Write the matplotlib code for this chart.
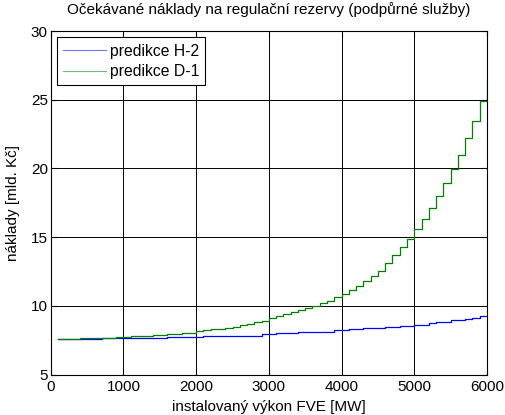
import numpy as np
import matplotlib.pyplot as plt

plt.rcParams['font.family'] = ['Liberation Sans', 'DejaVu Sans']

# instalovany vykon [MW], krok 100 MW
vykon = np.arange(100, 6100, 100)

# predikce H-2 [mld. Kc]
h2 = [7.60] * 6 + [7.68] * 9 + [7.72] * 5 + [7.78] * 4 + [7.85] * 4 + \
     [7.93] * 2 + [8.02] * 3 + [8.08] * 2 + [8.14] * 3 + [8.22] * 2 + \
     [8.30] * 2 + [8.38] * 3 + [8.48] * 2 + [8.56] * 2 + [8.64] * 2 + \
     [8.76] + [8.85] * 2 + [8.95] * 2 + [9.05, 9.15, 9.25, 9.30]

# predikce D-1 [mld. Kc]
d1 = [7.60] * 3 + [7.68] * 5 + [7.75] * 2 + [7.82] * 3 + [7.89] * 2 + \
     [7.96] * 2 + [8.04] * 2 + \
     [8.15, 8.22, 8.29, 8.36, 8.43, 8.50, 8.63, 8.72, 8.82, 8.93,
      9.12, 9.30, 9.45, 9.58, 9.72, 9.86, 10.00, 10.20, 10.39, 10.62,
      10.88, 11.18, 11.47, 11.84, 12.20, 12.57, 13.10, 13.69, 14.27, 14.88,
      15.58, 16.30, 17.10, 18.00, 18.94, 19.94, 20.99, 22.20, 23.45, 24.90,
      26.50]

xticks = [0, 1000, 2000, 3000, 4000, 5000, 6000]
yticks = [5, 10, 15, 20, 25, 30]

fig = plt.figure(figsize=(5.05, 4.15), dpi=100)
ax = fig.add_axes([0.1004, 0.0971, 0.8640, 0.8282])

ax.step(vykon, h2, where='post', color='b', lw=0.9, label='predikce H-2')
ax.step(vykon, d1, where='post', color=(0, 0.5, 0), lw=0.9, label='predikce D-1')

ax.set_xlim(0, 6000)
ax.set_ylim(5, 30)
ax.set_xticks(xticks)
ax.set_yticks(yticks)
ax.grid(True, color='k', lw=0.7, ls='-')
ax.tick_params(direction='in', length=4, labelsize=11, top=True, right=True)
ax.tick_params(axis='x', pad=4)
ax.tick_params(axis='y', pad=2)
for s in ax.spines.values():
    s.set_linewidth(0.8)

ax.set_title('Očekávané náklady na regulační rezervy (podpůrné služby)', fontsize=11, pad=12)
ax.set_xlabel('instalovaný výkon FVE [MW]', fontsize=11, labelpad=4)
ax.set_ylabel('náklady [mld. Kč]', fontsize=11, labelpad=8)

leg = ax.legend(loc='upper left', fontsize=11.3, handlelength=2.7, handletextpad=0.25,
                borderaxespad=0.4, borderpad=0.4, labelspacing=0.35, fancybox=False)
leg.get_frame().set_edgecolor('k')
leg.get_frame().set_linewidth(0.8)
leg.get_frame().set_alpha(1)
for ln in leg.get_lines():
    ln.set_linewidth(0.8)
    ln.set_alpha(0.55)

fig.savefig('out.png', dpi=100)
